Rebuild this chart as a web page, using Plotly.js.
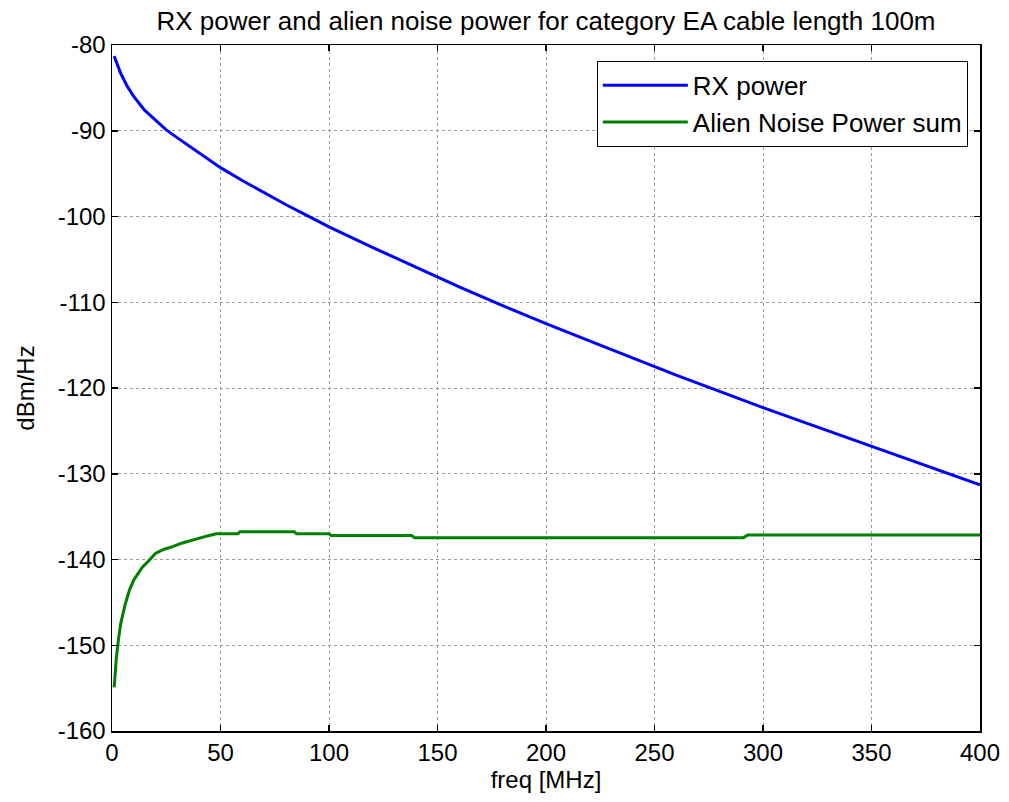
<!DOCTYPE html>
<html>
<head>
<meta charset="utf-8">
<script src="https://cdn.plot.ly/plotly-3.0.1.min.js"></script>
<style>html,body{margin:0;padding:0;background:#fff;}#chart{width:1009px;height:802px;}</style>
</head>
<body>
<div id="chart"></div>
<script>
const rxFreq = [1, 2, 4, 7, 10, 15, 20, 25, 30, 40, 50, 60, 70, 80, 90, 100, 120, 140, 160, 180, 200, 220, 240, 260, 280, 300, 320, 340, 360, 380, 400];
const rxPower = [-81.3, -82.0, -83.3, -84.8, -86.0, -87.6, -88.8, -89.9, -90.8, -92.6, -94.3, -95.8, -97.2, -98.6, -99.9, -101.2, -103.6, -105.9, -108.2, -110.4, -112.5, -114.5, -116.5, -118.5, -120.4, -122.3, -124.1, -125.9, -127.7, -129.5, -131.3];

const noiseFreq = [1, 2, 3, 4, 6, 8, 10, 12, 14, 16, 18, 20, 24, 28, 32, 36, 40, 44, 48, 58, 59, 84, 85, 100, 101, 138, 139.5, 291, 293, 400];
const noisePower = [-154.9, -151.5, -149.3, -147.5, -145.3, -143.6, -142.4, -141.6, -140.9, -140.4, -139.8, -139.3, -138.8, -138.5, -138.1, -137.8, -137.5, -137.25, -137.0, -137.0, -136.75, -136.75, -137.0, -137.0, -137.2, -137.2, -137.45, -137.45, -137.15, -137.15];

const xTickVals = [0, 50, 100, 150, 200, 250, 300, 350, 400];
const xTickText = ['0', '50', '100', '150', '200', '250', '300', '350', '400'];
const yTickVals = [-160, -150, -140, -130, -120, -110, -100, -90, -80];
const yTickText = ['-160', '-150', '-140', '-130', '-120', '-110', '-100', '-90', '-80'];

const seriesNames = ['RX power', 'Alien Noise Power sum'];
const titleText = 'RX power and alien noise power for category EA cable length 100m';
const xTitle = 'freq [MHz]';
const yTitle = 'dBm/Hz';

const font = 'Arial, "Liberation Sans", sans-serif';

const traces = [
  {x: rxFreq, y: rxPower, name: seriesNames[0], mode: 'lines', line: {color: '#0000ff', width: 3}},
  {x: noiseFreq, y: noisePower, name: seriesNames[1], mode: 'lines', line: {color: '#008000', width: 3}}
];

const axisCommon = {
  showline: true, linecolor: '#000', linewidth: 1.5, mirror: 'ticks',
  ticks: 'inside', ticklen: 6, tickcolor: '#000', tickwidth: 1.5,
  showgrid: true, gridcolor: '#9a9a9a', griddash: 'dot', gridwidth: 1,
  zeroline: false, tickfont: {family: font, size: 24, color: '#000'}
};

const layout = {
  width: 1009, height: 802,
  margin: {l: 112, r: 29, t: 45, b: 71},
  paper_bgcolor: '#fff', plot_bgcolor: '#fff',
  font: {family: font, color: '#000'},
  title: {text: titleText, font: {family: font, size: 26, color: '#000'}, xref: 'paper', x: 0.5, xanchor: 'center', y: 0.985, yanchor: 'top'},
  xaxis: Object.assign({}, axisCommon, {range: [0, 400], tickvals: xTickVals, ticktext: xTickText,
    title: {text: xTitle, font: {family: font, size: 24, color: '#000'}, standoff: 6}}),
  yaxis: Object.assign({}, axisCommon, {range: [-160, -80], tickvals: yTickVals, ticktext: yTickText,
    title: {text: yTitle, font: {family: font, size: 24, color: '#000'}, standoff: 16}}),
  legend: {x: 0.986, xanchor: 'right', y: 0.977, yanchor: 'top', bgcolor: '#fff', bordercolor: '#000', borderwidth: 1,
    font: {family: font, size: 26, color: '#000'}, tracegroupgap: 0, itemwidth: 85},
  showlegend: true
};

Plotly.newPlot('chart', traces, layout, {displayModeBar: false, staticPlot: true});
</script>
</body>
</html>
